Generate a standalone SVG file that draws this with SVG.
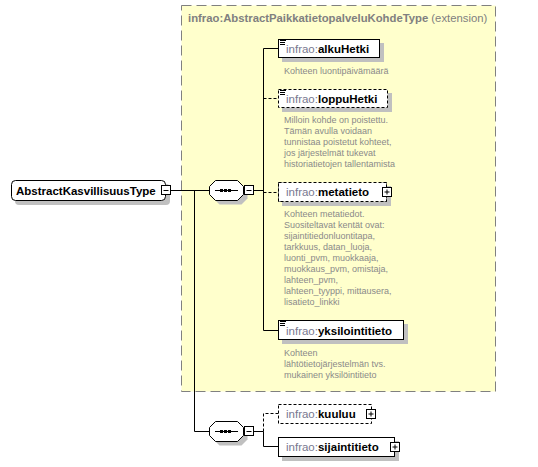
<svg xmlns="http://www.w3.org/2000/svg" width="538" height="467" viewBox="0 0 538 467">
<defs>
<style>
text{font-family:"Liberation Sans",Arial,sans-serif}
.ext{fill:#ffffcc;stroke:#808080;stroke-dasharray:10,5}
.title{font-size:11.3px;fill:#808080;font-weight:bold}
.title .n{font-weight:normal}
.box{fill:#fff;stroke:#000}
.opt{stroke-dasharray:3,2}
.sh{fill:#c0c0c0}
.lbl{font-size:11.5px;font-weight:bold;fill:#000}
.pfx{font-weight:normal;fill:#787890}
.desc{font-size:9px;fill:#8a8a8a}
.ln{stroke:#000;fill:none}
.dash{stroke-dasharray:3,2}
.ico{stroke:#000}
</style>
</defs>
<rect width="538" height="467" fill="#fff"/>

<g id="extension">
<rect class="ext" x="181.5" y="5.5" width="314" height="386"/>
<text class="title" x="188" y="22">infrao:AbstractPaikkatietopalveluKohdeType<tspan class="n"> (extension)</tspan></text>
</g>

<g id="connectors">
<path class="ln" d="M171 190.5H209.5M194.5 190.5V431.5H209.5"/>
<path class="ln" d="M254 190.5H263.5M263.5 48.5V330.5M263.5 48.5H278.5M263.5 330.5H278.5"/>
<path class="ln dash" d="M263.5 98.5H278.5M263.5 192.5H278.5"/>
<path class="ln" d="M254 431.5H263.5V446.5H278.5"/>
<path class="ln dash" d="M263.5 431.5V413.5H278.5"/>
</g>

<g id="AbstractKasvillisuusType">
<rect class="sh" x="15" y="184" width="155" height="21" rx="4"/>
<rect class="box" x="11.5" y="180.5" width="154" height="20" rx="4"/>
<text class="lbl" x="16" y="194.5">AbstractKasvillisuusType</text>
<rect class="box" x="161.5" y="185.5" width="9" height="9"/>
<path class="ln" d="M163.5 190.5h5"/>
</g>

<g id="sequence1">
<path class="sh" d="M219.5 184.5H241.5L247.5 190.5V198.5L241.5 204.5H219.5L213.5 198.5V190.5Z"/>
<path class="box" d="M215.5 180.5H237.5L243.5 186.5V194.5L237.5 200.5H215.5L209.5 194.5V186.5Z"/>
<path class="ln" d="M215 190.5H238"/>
<rect x="220" y="189" width="3" height="3"/>
<rect x="224" y="189" width="3" height="3"/>
<rect x="228" y="189" width="3" height="3"/>
<rect class="box" x="244.5" y="185.5" width="9" height="9"/>
<path class="ln" d="M246.5 190.5h5"/>
</g>

<g id="sequence2">
<path class="sh" d="M219.5 425.5H241.5L247.5 431.5V439.5L241.5 445.5H219.5L213.5 439.5V431.5Z"/>
<path class="box" d="M215.5 421.5H237.5L243.5 427.5V435.5L237.5 441.5H215.5L209.5 435.5V427.5Z"/>
<path class="ln" d="M215 431.5H238"/>
<rect x="220" y="430" width="3" height="3"/>
<rect x="224" y="430" width="3" height="3"/>
<rect x="228" y="430" width="3" height="3"/>
<rect class="box" x="244.5" y="426.5" width="9" height="9"/>
<path class="ln" d="M246.5 431.5h5"/>
</g>

<g id="alkuHetki">
<rect class="sh" x="282" y="43" width="102" height="19"/>
<rect class="box" x="278.5" y="39.5" width="101" height="18"/>
<path class="ico" d="M280 40.5h6M280 42.5h5M280 44.5h5"/>
<text class="lbl" x="286" y="52.5"><tspan class="pfx">infrao:</tspan>alkuHetki</text>
<text class="desc" x="284" y="74">Kohteen luontipäivämäärä</text>
</g>

<g id="loppuHetki">
<rect class="sh" x="282" y="93" width="110" height="19"/>
<rect class="box opt" x="278.5" y="89.5" width="109" height="18"/>
<path class="ico" d="M280 90.5h6M280 92.5h5M280 94.5h5"/>
<text class="lbl" x="286" y="102.5"><tspan class="pfx">infrao:</tspan>loppuHetki</text>
<text class="desc" x="284" y="123">Milloin kohde on poistettu.</text>
<text class="desc" x="284" y="134">Tämän avulla voidaan</text>
<text class="desc" x="284" y="145">tunnistaa poistetut kohteet,</text>
<text class="desc" x="284" y="156">jos järjestelmät tukevat</text>
<text class="desc" x="284" y="167">historiatietojen tallentamista</text>
</g>

<g id="metatieto">
<rect class="sh" x="282" y="186" width="109" height="20"/>
<rect x="278.5" y="182.5" width="108" height="19" fill="#ffffcc"/>
<path d="M278.5 182.5L358 193L278.5 201.5ZM386.5 182.5L308 193L386.5 201.5Z" fill="#fff" stroke="#000"/>
<rect class="box opt" x="278.5" y="182.5" width="108" height="19" fill="none"/>
<text class="lbl" x="286" y="196"><tspan class="pfx">infrao:</tspan>metatieto</text>
<rect class="box" x="382.5" y="187.5" width="9" height="9"/>
<path class="ln" d="M384.5 192h5M387 189.5v5"/>
<text class="desc" x="284" y="217">Kohteen metatiedot.</text>
<text class="desc" x="284" y="228">Suositeltavat kentät ovat:</text>
<text class="desc" x="284" y="239">sijaintitiedonluontitapa,</text>
<text class="desc" x="284" y="250">tarkkuus, datan_luoja,</text>
<text class="desc" x="284" y="261">luonti_pvm, muokkaaja,</text>
<text class="desc" x="284" y="272">muokkaus_pvm, omistaja,</text>
<text class="desc" x="284" y="283">lahteen_pvm,</text>
<text class="desc" x="284" y="294">lahteen_tyyppi, mittausera,</text>
<text class="desc" x="284" y="305">lisatieto_linkki</text>
</g>

<g id="yksilointitieto">
<rect class="sh" x="282" y="324" width="126" height="20"/>
<rect class="box" x="278.5" y="320.5" width="125" height="19"/>
<path class="ico" d="M280 321.5h6M280 323.5h5M280 325.5h5"/>
<text class="lbl" x="286" y="334.5"><tspan class="pfx">infrao:</tspan>yksilointitieto</text>
<text class="desc" x="284" y="356">Kohteen</text>
<text class="desc" x="284" y="367">lähtötietojärjestelmän  tvs.</text>
<text class="desc" x="284" y="378">mukainen yksilöintitieto</text>
</g>

<g id="kuuluu">
<rect class="box opt" x="278.5" y="404.5" width="93" height="19"/>
<text class="lbl" x="286" y="418"><tspan class="pfx">infrao:</tspan>kuuluu</text>
<rect class="box" x="366.5" y="409.5" width="9" height="9"/>
<path class="ln" d="M368.5 414h5M371 411.5v5"/>
</g>

<g id="sijaintitieto">
<rect class="sh" x="282" y="441" width="117" height="20"/>
<rect class="box" x="278.5" y="437.5" width="116" height="19"/>
<text class="lbl" x="286" y="451"><tspan class="pfx">infrao:</tspan>sijaintitieto</text>
<rect class="box" x="390.5" y="442.5" width="9" height="9"/>
<path class="ln" d="M392.5 447h5M395 444.5v5"/>
</g>
</svg>
